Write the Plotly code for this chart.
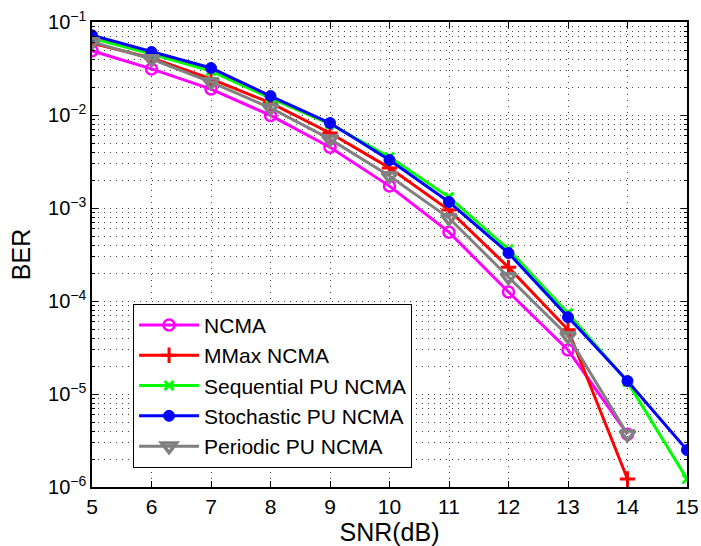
import plotly.graph_objects as go

snr = [5, 6, 7, 8, 9, 10, 11, 12, 13, 14, 15]

ncma = [0.049, 0.0313, 0.019, 0.0099, 0.0045, 0.00172, 0.00055, 1.25e-4, 2.97e-5, 3.7e-6]
mmax = [0.059, 0.041, 0.0244, 0.0135, 0.0064, 0.0027, 0.00095, 2.3e-4, 4.9e-5, 1.22e-6]
seq = [0.067, 0.0453, 0.0297, 0.0152, 0.0080, 0.00353, 0.00131, 3.6e-4, 7.4e-5, 1.35e-5, 1.22e-6]
stoch = [0.072, 0.0476, 0.032, 0.016, 0.0082, 0.00328, 0.00116, 3.28e-4, 6.7e-5, 1.38e-5, 2.5e-6]
periodic = [0.061, 0.040, 0.0226, 0.0119, 0.0055, 0.00221, 0.00078, 1.81e-4, 4.2e-5, 3.7e-6]

names = ["NCMA", "MMax NCMA", "Sequential PU NCMA", "Stochastic PU NCMA", "Periodic PU NCMA"]

y_exps = [-6, -5, -4, -3, -2, -1]
y_ticktext = ["10<sup>\u2212%d</sup>" % (-e) for e in y_exps]
x_ticks = list(range(5, 16))

FONT = "Liberation Sans, Arial, Helvetica, sans-serif"

fig = go.Figure()

def add(y, name, color, symbol, size, mline, fill=None):
    fig.add_trace(go.Scatter(
        x=snr[:len(y)], y=y, name=name, mode="lines+markers",
        line=dict(color=color, width=3),
        marker=dict(symbol=symbol, size=size, color=fill if fill else color,
                    line=dict(color=color, width=mline)),
    ))

add(ncma, names[0], "#FF00FF", "circle-open", 11, 2.5)
add(mmax, names[1], "#FF0000", "cross-thin-open", 11, 3)
add(seq, names[2], "#00FF00", "x-thin-open", 9, 3)
add(stoch, names[3], "#0000FF", "circle", 11, 1)
add(periodic, names[4], "#808080", "triangle-down-open", 13, 3.5)

minor_vals = [k * 10 ** e for e in range(-6, -1) for k in range(2, 10)]

grid_color = "rgba(0,0,0,0.75)"
grid_dash = "1px,5px"

fig.update_layout(
    width=701, height=546,
    margin=dict(l=92, r=14, t=22, b=59, autoexpand=False),
    paper_bgcolor="white", plot_bgcolor="white",
    font=dict(family=FONT, size=21, color="black"),
    legend=dict(x=0.069, y=0.394, xanchor="left", yanchor="top",
                bgcolor="white", bordercolor="black", borderwidth=1,
                font=dict(size=21), tracegroupgap=0, itemwidth=60),
    showlegend=True,
)

fig.update_xaxes(
    range=[5, 15], tickmode="array", tickvals=x_ticks,
    ticks="inside", ticklen=6, tickwidth=1, tickcolor="black",
    showline=True, linecolor="black", linewidth=1.5, mirror="ticks",
    showgrid=True, gridcolor=grid_color, gridwidth=1, griddash=grid_dash,
    zeroline=False, automargin=False,
    title=dict(text="SNR(dB)", standoff=6),
    tickfont=dict(size=21),
)

fig.update_yaxes(
    type="log", range=[-6, -1],
    tickmode="array", tickvals=[10 ** e for e in y_exps], ticktext=y_ticktext,
    ticks="inside", ticklen=6, tickwidth=1, tickcolor="black",
    showline=True, linecolor="black", linewidth=1.5, mirror="ticks",
    showgrid=True, gridcolor=grid_color, gridwidth=1, griddash=grid_dash,
    zeroline=False, automargin=False,
    minor=dict(tickmode="array", tickvals=minor_vals, ticks="inside", ticklen=3,
               tickcolor="black", showgrid=True, gridcolor=grid_color,
               gridwidth=1, griddash=grid_dash),
    title=dict(text="BER", standoff=10),
    tickfont=dict(size=20),
)

fig.write_html("out.html")
